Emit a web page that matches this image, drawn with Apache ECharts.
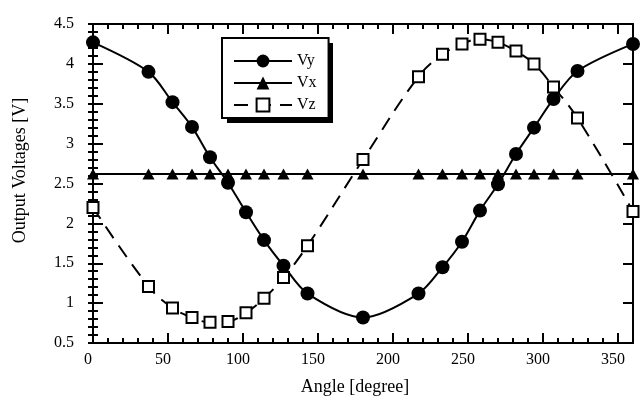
<!DOCTYPE html>
<html>
<head>
<meta charset="utf-8">
<script src="https://cdn.jsdelivr.net/npm/echarts@6/dist/echarts.min.js"></script>
<style>
  html, body { margin: 0; padding: 0; background: #fff; }
  #chart { width: 644px; height: 407px; }
</style>
</head>
<body>
<div id="chart"></div>
<script>
// ---- data ----
const angles = [0, 37, 53, 66, 78, 90, 102, 114, 127, 143, 180, 217, 233, 246, 258, 270, 282, 294, 307, 323, 360];
const vy = [4.27, 3.90, 3.52, 3.21, 2.83, 2.51, 2.14, 1.79, 1.47, 1.12, 0.82, 1.12, 1.45, 1.77, 2.16, 2.49, 2.87, 3.20, 3.56, 3.91, 4.25];
const vx = [2.62, 2.62, 2.62, 2.62, 2.62, 2.62, 2.62, 2.62, 2.62, 2.62, 2.62, 2.62, 2.62, 2.62, 2.62, 2.62, 2.62, 2.62, 2.62, 2.62, 2.62];
const vz = [2.20, 1.21, 0.94, 0.82, 0.76, 0.77, 0.88, 1.06, 1.32, 1.72, 2.80, 3.84, 4.12, 4.25, 4.31, 4.27, 4.16, 4.00, 3.71, 3.32, 2.15];
const seriesNames = ['Vy', 'Vx', 'Vz'];
const xTitle = 'Angle [degree]';
const yTitle = 'Output Voltages [V]';

const FONT = "'Liberation Serif', 'Times New Roman', serif";
const pairs = (ys) => angles.map((a, i) => [a, ys[i]]);

const chart = echarts.init(document.getElementById('chart'), null, { renderer: 'canvas' });

const lineBlack = { show: true, onZero: false, lineStyle: { color: '#000', width: 2 } };
const noLine = { show: false };

function xAx(pos, major, labels) {
  return {
    type: 'value', position: pos, min: 0, max: 360, interval: major ? 50 : 10,
    gridIndex: 0,
    axisLine: major ? lineBlack : noLine,
    axisTick: { show: true, inside: true, length: major ? 10 : 5, lineStyle: { color: '#000', width: 2 } },
    axisLabel: labels ? {
      show: true, color: '#000', fontFamily: FONT, fontSize: 16, margin: 9,
      showMaxLabel: false, padding: [0, 10, 0, 0]
    } : { show: false },
    splitLine: { show: false },
    name: labels ? xTitle : '',
    nameLocation: 'middle', nameGap: 35,
    nameTextStyle: { color: '#000', fontFamily: FONT, fontSize: 18, padding: [0, 16, 0, 0] }
  };
}
function yAx(pos, major, labels) {
  return {
    type: 'value', position: pos, min: 0.5, max: 4.5, interval: major ? 0.5 : 0.1,
    gridIndex: 0,
    axisLine: major ? lineBlack : noLine,
    axisTick: { show: true, inside: true, length: major ? 10 : 5, lineStyle: { color: '#000', width: 2 } },
    axisLabel: labels ? {
      show: true, color: '#000', fontFamily: FONT, fontSize: 16, margin: 19,
      padding: [0, 0, 10, 0],
      formatter: (v) => String(Math.round(v * 10) / 10)
    } : { show: false },
    splitLine: { show: false },
    name: labels ? yTitle : '',
    nameLocation: 'middle', nameRotate: 90, nameGap: 64,
    nameTextStyle: { color: '#000', fontFamily: FONT, fontSize: 18, padding: [0, 0, 0, 26] }
  };
}

const option = {
  backgroundColor: '#fff',
  animation: false,
  grid: { left: 93, right: 11, top: 24, bottom: 64, containLabel: false, outerBoundsMode: 'none' },
  xAxis: [xAx('bottom', true, true), xAx('bottom', false, false), xAx('top', true, false), xAx('top', false, false)],
  yAxis: [yAx('left', true, true), yAx('left', false, false), yAx('right', true, false), yAx('right', false, false)],
  legend: {
    data: seriesNames,
    orient: 'vertical',
    left: 222, top: 38,
    itemWidth: 58, itemHeight: 16, itemGap: 6,
    padding: [15, 12, 5, 11],
    backgroundColor: '#fff',
    borderColor: '#000', borderWidth: 2, borderRadius: 0,
    z: 5,
    textStyle: { color: '#000', fontFamily: FONT, fontSize: 16 }
  },
  graphic: [{
    type: 'rect', z: 4,
    shape: { x: 227, y: 43, width: 106, height: 80 },
    style: { fill: '#000' }
  }],
  series: [
    {
      name: seriesNames[0], type: 'line', data: pairs(vy),
      xAxisIndex: 0, yAxisIndex: 0,
      smooth: 0.3, symbol: 'circle', symbolSize: 14,
      itemStyle: { color: '#000' },
      lineStyle: { color: '#000', width: 2 }
    },
    {
      name: seriesNames[1], type: 'line', data: pairs(vx),
      xAxisIndex: 0, yAxisIndex: 0,
      symbol: 'triangle', symbolSize: [12, 11],
      itemStyle: { color: '#000' },
      lineStyle: { color: '#000', width: 2 }
    },
    {
      name: seriesNames[2], type: 'line', data: pairs(vz),
      xAxisIndex: 0, yAxisIndex: 0,
      smooth: 0.4, symbol: 'rect', symbolSize: 11,
      itemStyle: { color: '#fff', borderColor: '#000', borderWidth: 2 },
      lineStyle: { color: '#000', width: 2, type: [14, 9] }
    }
  ]
};
chart.setOption(option);
</script>
</body>
</html>
